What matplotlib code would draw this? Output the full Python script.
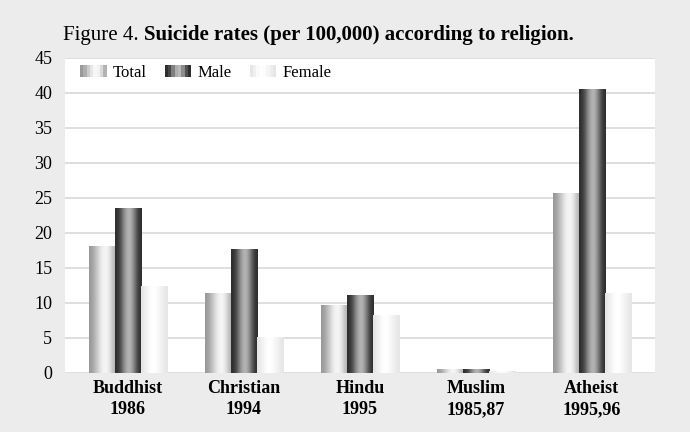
import numpy as np
import matplotlib.pyplot as plt
from matplotlib.patches import Rectangle
from matplotlib.legend_handler import HandlerBase

# data
religions = ["Buddhist\n1986", "Christian\n1994", "Hindu\n1995", "Muslim\n1985,87", "Atheist\n1995,96"]
total = [18.0, 11.3, 9.6, 0.5, 25.6]
male = [23.5, 17.7, 11.0, 0.5, 40.5]
female = [12.3, 5.0, 8.2, 0.2, 11.3]
series_names = ["Total", "Male", "Female"]

# grey shading across each bar (left -> right), gives the cylinder look
shades = {
    "Total": [0.6, 0.68, 0.8, 0.9, 0.97, 0.95, 0.85, 0.7],
    "Male": [0.18, 0.28, 0.5, 0.68, 0.72, 0.55, 0.32, 0.18],
    "Female": [0.9, 0.94, 0.98, 1.0, 0.99, 0.96, 0.93, 0.9],
}

plt.rcParams['font.family'] = ['Liberation Serif', 'DejaVu Serif']

fig = plt.figure(figsize=(6.9, 4.32), dpi=100)
fig.patch.set_facecolor('#ececec')
ax = fig.add_axes([0.094, 0.1366, 0.855, 0.7294])
ax.set_facecolor('white')

x = np.arange(len(religions))
w = 0.225
for k, (name, vals) in enumerate(zip(series_names, [total, male, female])):
    bars = ax.bar(x + (k - 1) * w, vals, w, facecolor='none', edgecolor='none', zorder=3)
    g = np.array(shades[name]).reshape(1, -1)
    for b in bars:
        x0, y0 = b.get_x(), b.get_y()
        ax.imshow(g, cmap='gray', vmin=0, vmax=1, aspect='auto', interpolation='bicubic',
                  extent=[x0, x0 + b.get_width(), y0, y0 + b.get_height()], zorder=3)

ax.set_xlim(-0.543, 4.543)
ax.set_ylim(0, 45)
ax.set_yticks(range(0, 50, 5))
ax.set_xticks(x)
ax.set_xticklabels(religions, fontweight='bold', fontsize=13, linespacing=1.35)
ax.tick_params(axis='y', labelsize=13, length=0, pad=9)
ax.tick_params(axis='x', length=0, pad=5)
ax.yaxis.grid(True, color='#d9d9d9', linewidth=1.2, zorder=0)
ax.set_axisbelow(True)
for s in ax.spines.values():
    s.set_visible(False)


class GradHandler(HandlerBase):
    def __init__(self, shade):
        super().__init__()
        self.shade = shade

    def create_artists(self, legend, orig_handle, xdescent, ydescent, width, height, fontsize, trans):
        n = len(self.shade)
        arts = []
        for i, v in enumerate(self.shade):
            r = Rectangle((-xdescent + i * width / n, -ydescent), width / n, height,
                          facecolor=str(v), edgecolor='none', transform=trans)
            arts.append(r)
        return arts


handles = [Rectangle((0, 0), 1, 1) for _ in series_names]
ax.legend(handles, series_names, loc='upper left', ncol=3, frameon=False, fontsize=12,
          handler_map={h: GradHandler(shades[n]) for h, n in zip(handles, series_names)},
          handlelength=1.6, handletextpad=0.35, columnspacing=1.1,
          bbox_to_anchor=(0.0, 1.025), borderaxespad=0.5)

t1 = fig.text(0.091, 0.918, "Figure 4. ", fontsize=15, va='center')
ax.annotate("Suicide rates (per 100,000) according to religion.", xy=(1, 0), xycoords=t1,
            va='bottom', ha='left', fontsize=15, fontweight='bold', annotation_clip=False)

fig.savefig('out.png', dpi=100, facecolor=fig.get_facecolor())
